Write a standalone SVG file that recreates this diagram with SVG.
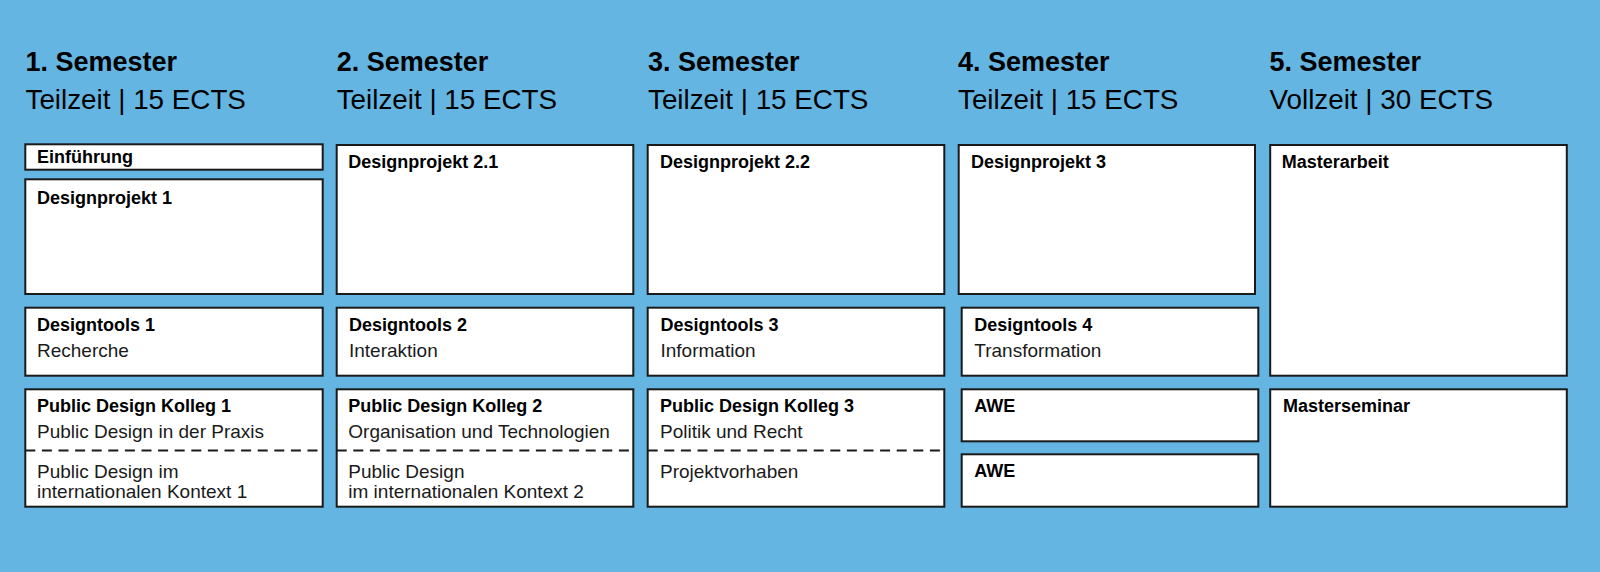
<svg xmlns="http://www.w3.org/2000/svg" width="1600" height="572" viewBox="0 0 1600 572">
<style>
.box{fill:#ffffff;stroke:#1a1a1a;stroke-width:2}
.dash{stroke:#1a1a1a;stroke-width:2;stroke-dasharray:10 6.6;fill:none}
.h1{font-family:"Liberation Sans",Arial,sans-serif;font-weight:bold;font-size:27px;fill:#000}
.h2{font-family:"Liberation Sans",Arial,sans-serif;font-size:27.8px;fill:#000}
.t{font-family:"Liberation Sans",Arial,sans-serif;font-weight:bold;font-size:18px;fill:#000}
.s{font-family:"Liberation Sans",Arial,sans-serif;font-size:19px;fill:#1a1a1a}
</style>
<rect x="0" y="0" width="1600" height="572" fill="#64b5e2"/>

<g id="headers">
<text class="h1" x="25.5" y="70.7">1. Semester</text>
<text class="h2" x="25.5" y="109">Teilzeit | 15 ECTS</text>
<text class="h1" x="336.7" y="70.7">2. Semester</text>
<text class="h2" x="336.7" y="109">Teilzeit | 15 ECTS</text>
<text class="h1" x="648" y="70.7">3. Semester</text>
<text class="h2" x="648" y="109">Teilzeit | 15 ECTS</text>
<text class="h1" x="958" y="70.7">4. Semester</text>
<text class="h2" x="958" y="109">Teilzeit | 15 ECTS</text>
<text class="h1" x="1269.5" y="70.7">5. Semester</text>
<text class="h2" x="1269.5" y="109">Vollzeit | 30 ECTS</text>
</g>

<g id="einfuehrung">
<rect class="box" x="25.3" y="144.3" width="297.4" height="25.4"/>
<text class="t" x="37" y="163.3">Einführung</text>
</g>
<g id="designprojekt1">
<rect class="box" x="25.3" y="179.3" width="297.4" height="114.7"/>
<text class="t" x="37" y="204.3">Designprojekt 1</text>
</g>
<g id="designtools1">
<rect class="box" x="25.3" y="307.7" width="297.4" height="68"/>
<text class="t" x="37" y="330.5">Designtools 1</text>
<text class="s" x="37" y="356.7">Recherche</text>
</g>
<g id="pdk1">
<rect class="box" x="25.3" y="389.3" width="297.4" height="117.4"/>
<line class="dash" x1="25.3" y1="450.5" x2="322.7" y2="450.5"/>
<text class="t" x="37" y="412">Public Design Kolleg 1</text>
<text class="s" x="37" y="438">Public Design in der Praxis</text>
<text class="s" x="37" y="477.5">Public Design im</text>
<text class="s" x="37" y="498">internationalen Kontext 1</text>
</g>

<g id="designprojekt21">
<rect class="box" x="336.7" y="145" width="296.6" height="149"/>
<text class="t" x="348.3" y="167.7">Designprojekt 2.1</text>
</g>
<g id="designtools2">
<rect class="box" x="336.7" y="307.7" width="296.6" height="68"/>
<text class="t" x="349" y="330.5">Designtools 2</text>
<text class="s" x="349" y="356.7">Interaktion</text>
</g>
<g id="pdk2">
<rect class="box" x="336.7" y="389.3" width="296.6" height="117.4"/>
<line class="dash" x1="336.7" y1="450.5" x2="633.3" y2="450.5"/>
<text class="t" x="348.3" y="412">Public Design Kolleg 2</text>
<text class="s" x="348.3" y="438">Organisation und Technologien</text>
<text class="s" x="348.3" y="477.5">Public Design</text>
<text class="s" x="348.3" y="498">im internationalen Kontext 2</text>
</g>

<g id="designprojekt22">
<rect class="box" x="647.7" y="145" width="296.6" height="149"/>
<text class="t" x="660" y="167.7">Designprojekt 2.2</text>
</g>
<g id="designtools3">
<rect class="box" x="647.7" y="307.7" width="296.6" height="68"/>
<text class="t" x="660.5" y="330.5">Designtools 3</text>
<text class="s" x="660.5" y="356.7">Information</text>
</g>
<g id="pdk3">
<rect class="box" x="647.7" y="389.3" width="296.6" height="117.4"/>
<line class="dash" x1="647.7" y1="450.5" x2="944.3" y2="450.5"/>
<text class="t" x="660" y="412">Public Design Kolleg 3</text>
<text class="s" x="660" y="438">Politik und Recht</text>
<text class="s" x="660" y="477.5">Projektvorhaben</text>
</g>

<g id="designprojekt3">
<rect class="box" x="958.7" y="145" width="296.3" height="149"/>
<text class="t" x="971" y="167.7">Designprojekt 3</text>
</g>
<g id="designtools4">
<rect class="box" x="961.7" y="307.7" width="296.6" height="68"/>
<text class="t" x="974.3" y="330.5">Designtools 4</text>
<text class="s" x="974.3" y="356.7">Transformation</text>
</g>
<g id="awe1">
<rect class="box" x="961.7" y="389.3" width="296.6" height="52"/>
<text class="t" x="974.3" y="412.3">AWE</text>
</g>
<g id="awe2">
<rect class="box" x="961.7" y="454.3" width="296.6" height="52.4"/>
<text class="t" x="974.3" y="477.3">AWE</text>
</g>

<g id="masterarbeit">
<rect class="box" x="1270.2" y="145" width="296.6" height="230.7"/>
<text class="t" x="1281.7" y="167.5">Masterarbeit</text>
</g>
<g id="masterseminar">
<rect class="box" x="1270.2" y="389.3" width="296.6" height="117.4"/>
<text class="t" x="1283" y="411.7">Masterseminar</text>
</g>

<g id="connectors"></g>
</svg>
